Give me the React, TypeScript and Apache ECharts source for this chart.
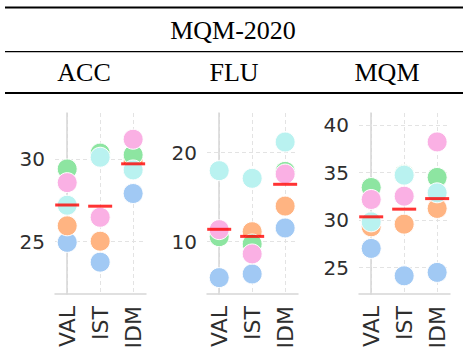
import React, { useEffect, useRef } from "react";
import * as echarts from "echarts";

const categories = ["VAL", "IST", "IDM"];
const panels = ["ACC", "FLU", "MQM"];
const title = "MQM-2020";

// per panel, per colour group: values at VAL, IST, IDM
const accBlue = [24.96, 23.76, 27.92];
const accOrange = [25.96, 25.03, 29.86];
const accGreen = [29.41, 30.37, 30.26];
const accPink = [28.58, 26.48, 31.21];
const accCyan = [27.21, 30.12, 29.35];

const fluBlue = [5.96, 6.37, 11.54];
const fluOrange = [11.1, 11.12, 14.0];
const fluGreen = [10.56, 9.74, 17.9];
const fluPink = [11.35, 8.62, 17.6];
const fluCyan = [17.98, 17.12, 21.2];

const mqmBlue = [27.03, 24.15, 24.51];
const mqmOrange = [29.3, 29.58, 31.23];
const mqmGreen = [33.43, 34.8, 34.49];
const mqmPink = [32.17, 32.52, 38.22];
const mqmCyan = [29.82, 34.73, 32.87];

const accTicks = [25, 30];
const fluTicks = [10, 20];
const mqmTicks = [25, 30, 35, 40];

const yRanges = [
  [21.83, 32.8],
  [4.12, 24.46],
  [22.24, 41.26],
];

const colors = ["#a1c9f4", "#ffb482", "#8de5a1", "#fab0e4", "#b9f2f0"];

const panelData = [
  [accBlue, accOrange, accGreen, accPink, accCyan],
  [fluBlue, fluOrange, fluGreen, fluPink, fluCyan],
  [mqmBlue, mqmOrange, mqmGreen, mqmPink, mqmCyan],
];
const panelTicks = [accTicks, fluTicks, mqmTicks];

export default function App() {
  const ref = useRef<HTMLDivElement>(null);
  useEffect(() => {
    if (!ref.current) return;
    const chart = echarts.init(ref.current, null, { renderer: "svg" });
    const lefts = [55, 207, 359];
    const gridW = 91;
    const grids = lefts.map((l) => ({ left: l, top: 113, width: gridW, height: 181 }));
    const labelColor = "#2e2e2e";
    const font = "DejaVu Sans";
    const xAxis = lefts.map((_, i) => ({
      type: "value",
      gridIndex: i,
      min: -0.37,
      max: 2.39,
      axisLine: { show: true, lineStyle: { color: "#d6d6d6", width: 1.5 } },
      axisTick: { show: false, customValues: [0, 1, 2] },
      axisLabel: {
        customValues: [0, 1, 2],
        formatter: (v: number) => categories[Math.round(v)],
        rotate: 90,
        fontSize: 22,
        fontFamily: font,
        color: labelColor,
        margin: 12,
      },
      splitLine: { show: true, lineStyle: { color: "#e3e3e3", type: [4, 3], width: 1 } },
    }));
    const yAxis = lefts.map((_, i) => ({
      type: "value",
      gridIndex: i,
      min: yRanges[i][0],
      max: yRanges[i][1],
      axisLine: { show: true, lineStyle: { color: "#d6d6d6", width: 1.5 } },
      axisTick: { show: false, customValues: panelTicks[i] },
      axisLabel: {
        customValues: panelTicks[i],
        fontSize: 20,
        fontFamily: font,
        color: labelColor,
        margin: 10,
      },
      splitLine: { show: true, lineStyle: { color: "#e3e3e3", type: [4, 3], width: 1 } },
    }));
    const series: any[] = [];
    panelData.forEach((groups, p) => {
      groups.forEach((vals, g) => {
        series.push({
          type: "scatter",
          xAxisIndex: p,
          yAxisIndex: p,
          symbolSize: 20,
          z: 2 + g,
          itemStyle: { color: colors[g], borderColor: "#ffffff", borderWidth: 1, opacity: 1 },
          data: vals.map((v, c) => [c, v]),
        });
      });
      const means = categories.map(
        (_, c) => groups.reduce((s, arr) => s + arr[c], 0) / groups.length
      );
      series.push({
        type: "scatter",
        xAxisIndex: p,
        yAxisIndex: p,
        symbol: "rect",
        symbolSize: [24, 3],
        z: 10,
        itemStyle: { color: "#ff0000" },
        data: means.map((m, c) => [c, m]),
      });
    });
    const serif = "Liberation Serif";
    const headerCenters = [84, 234, 387];
    chart.setOption({
      animation: false,
      grid: grids,
      xAxis,
      yAxis,
      series,
      graphic: [
        { type: "rect", shape: { x: 5, y: 6.5, width: 458, height: 2 }, style: { fill: "#000" } },
        { type: "rect", shape: { x: 5, y: 51, width: 458, height: 1.3 }, style: { fill: "#000" } },
        { type: "rect", shape: { x: 5, y: 92, width: 458, height: 2 }, style: { fill: "#000" } },
        {
          type: "text",
          x: 233,
          y: 30,
          style: {
            text: title,
            fontFamily: serif,
            fontSize: 26,
            fill: "#000",
            align: "center",
            verticalAlign: "middle",
          },
        },
        ...panels.map((p, i) => ({
          type: "text",
          x: headerCenters[i],
          y: 72,
          style: {
            text: p,
            fontFamily: serif,
            fontSize: 26,
            fill: "#000",
            align: "center",
            verticalAlign: "middle",
          },
        })),
      ],
    });
    return () => chart.dispose();
  }, []);
  return (
    <div
      ref={ref}
      style={{ position: "fixed", left: 0, top: 0, width: 465, height: 357, background: "#fff" }}
    />
  );
}
